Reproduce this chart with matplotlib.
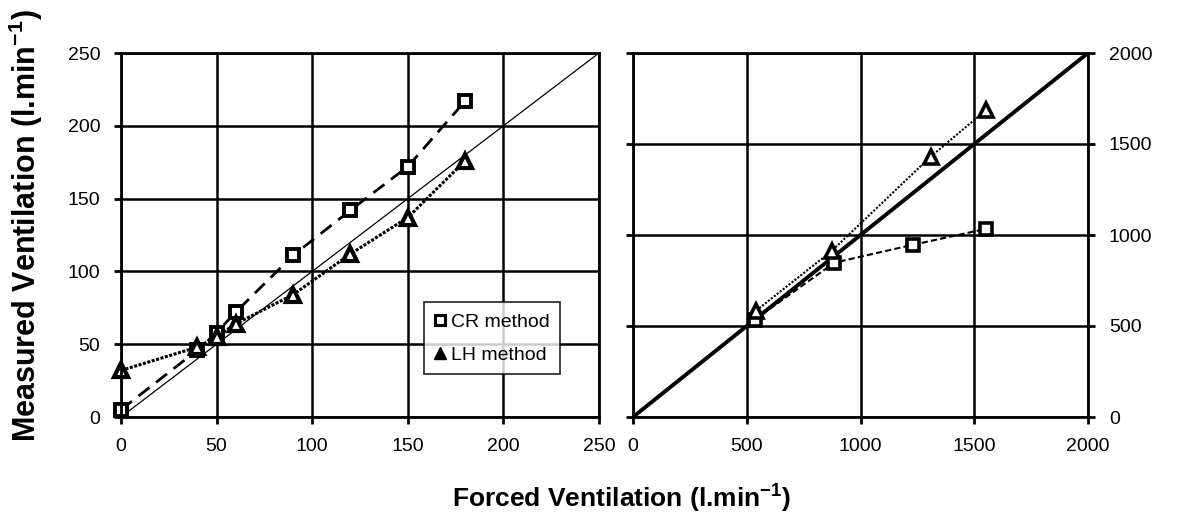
import numpy as np
import matplotlib.pyplot as plt

plt.rcParams['font.family'] = ['Liberation Sans', 'DejaVu Sans']
plt.rcParams['mathtext.fontset'] = 'custom'
plt.rcParams['mathtext.rm'] = 'Liberation Sans'
plt.rcParams['mathtext.bf'] = 'Liberation Sans:bold'

# left panel (l.min-1)
cr_x = [0, 40, 50, 60, 90, 120, 150, 180]
cr_y = [5, 46, 58, 72, 111, 142, 172, 217]
lh_x = [0, 40, 50, 60, 90, 120, 150, 180]
lh_y = [32, 48, 55, 64, 84, 112, 137, 176]

# right panel
cr2_x = [535, 885, 1230, 1553]
cr2_y = [535, 848, 946, 1034]
lh2_x = [542, 873, 1308, 1553]
lh2_y = [585, 912, 1430, 1688]

ticks1 = [0, 50, 100, 150, 200, 250]
ticks2 = [0, 500, 1000, 1500, 2000]

fig = plt.figure(figsize=(11.95, 5.25), dpi=100)
ax1 = fig.add_axes([121/1195, 1-417/525, 478/1195, 364/525])
ax2 = fig.add_axes([633/1195, 1-417/525, 455/1195, 364/525])

for ax, t in [(ax1, ticks1), (ax2, ticks2)]:
    ax.set_xlim(t[0], t[-1])
    ax.set_ylim(t[0], t[-1])
    ax.set_xticks(t)
    ax.set_yticks(t)
    ax.grid(True, color='black', lw=1.8)
    ax.set_axisbelow(True)
    for s in ax.spines.values():
        s.set_linewidth(2)
    ax.tick_params(direction='out', length=5, width=2, labelsize=14, pad=10)

# left panel
ax1.plot([0, 250], [0, 250], color='black', lw=0.9)
ax1.plot(cr_x, cr_y, color='black', lw=2, ls=(0, (5, 3)))
ax1.plot(lh_x, lh_y, color='black', lw=2.2, ls=(0, (1, 0.5)))
ax1.plot(cr_x, cr_y, ls='none', marker='s', ms=9, mfc='white', mec='black', mew=2.8, clip_on=False)
ax1.plot(lh_x, lh_y, ls='none', marker='^', ms=10, mfc='white', mec='black', mew=3, clip_on=False)

h1, = ax1.plot([], [], ls='none', marker='s', ms=7, mfc='white', mec='black', mew=2.2)
h2, = ax1.plot([], [], ls='none', marker='^', ms=8, mfc='black', mec='black')
leg = ax1.legend([h1, h2], ['CR method', 'LH method'], loc='lower right',
                 bbox_to_anchor=(0.919, 0.117), fontsize=14, frameon=True,
                 fancybox=False, edgecolor='black', handlelength=0.6,
                 handletextpad=0.25, borderpad=0.55, labelspacing=0.8,
                 borderaxespad=0)
leg.get_frame().set_linewidth(1.3)

# right panel
ax2.plot([0, 2000], [0, 2000], color='black', lw=2.8)
ax2.plot(cr2_x, cr2_y, color='black', lw=1.5, ls=(0, (3, 1.5)))
ax2.plot(lh2_x, lh2_y, color='black', lw=1.5, ls=(0, (1, 0.8)))
ax2.plot(cr2_x, cr2_y, ls='none', marker='s', ms=8, mfc='white', mec='black', mew=2.6)
ax2.plot(lh2_x, lh2_y, ls='none', marker='^', ms=10, mfc='white', mec='black', mew=2.6)
ax2.yaxis.tick_right()
ax2.tick_params(axis='y', left=True, right=True, labelleft=False, labelright=True)

fig.text(0.022, 0.57, 'Measured Ventilation (l.min$^{\\mathbf{-1}}$)', rotation=90,
         ha='center', va='center', fontsize=22, fontweight='bold')
fig.text(0.52, 0.053, 'Forced Ventilation (l.min$^{\\mathbf{-1}}$)',
         ha='center', va='center', fontsize=19, fontweight='bold')

fig.savefig('out.png', dpi=100)
